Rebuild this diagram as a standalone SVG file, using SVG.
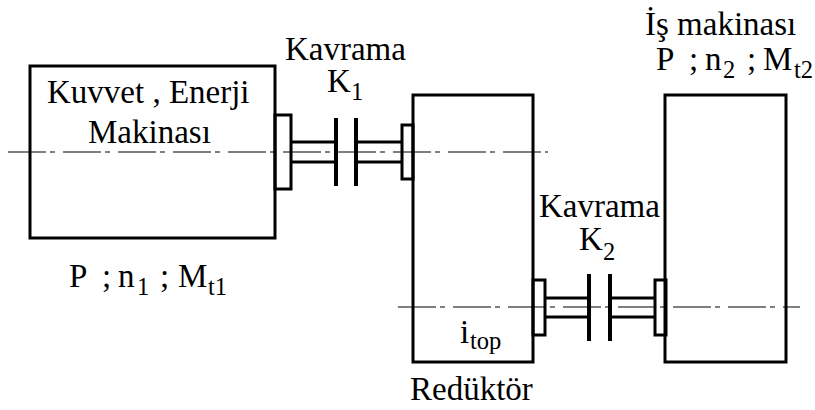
<svg xmlns="http://www.w3.org/2000/svg" width="815" height="410" viewBox="0 0 815 410">
<style>
.b{fill:none;stroke:#000;stroke-width:3}
.s{fill:none;stroke:#000;stroke-width:3}
.d{fill:none;stroke:#000;stroke-width:4}
.c{fill:none;stroke:#000;stroke-width:1.2;stroke-dasharray:38 4 5 8}
text{font-family:"Liberation Serif","Times New Roman",serif;font-size:33px;fill:#000}
.u{font-size:24.5px}
</style>
<rect width="815" height="410" fill="#fff"/>
<g id="connectors"><path class="c" d="M8 152H548"/><path class="c" d="M398 307H800"/></g>
<g id="motor"><rect class="b" x="30" y="66" width="245" height="172"/>
<text x="47" y="103">Kuvvet , Enerji</text><text x="88" y="143">Makinası</text>
<text x="69" y="287">P</text><text x="102" y="287">;</text><text x="118" y="287">n</text><text class="u" x="137" y="295">1</text><text x="160" y="287">;</text><text x="178" y="287">M</text><text class="u" x="208" y="295">t1</text></g>
<g id="reducer"><rect class="b" x="413" y="95" width="120" height="267"/>
<text x="460" y="343">i</text><text class="u" x="470" y="349">top</text>
<text x="410" y="400">Redüktör</text></g>
<g id="machine"><rect class="b" x="665" y="95" width="121" height="267"/>
<text x="645" y="35">İş makinası</text>
<text x="656" y="70">P</text><text x="689" y="70">;</text><text x="705" y="70">n</text><text class="u" x="723" y="78">2</text><text x="747" y="70">;</text><text x="763" y="70">M</text><text class="u" x="794" y="78">t2</text></g>
<g id="coupling1"><rect class="b" x="275" y="115" width="16" height="74"/>
<rect class="b" x="402" y="125" width="11" height="54"/>
<path class="s" d="M291 142H336M291 162H336M356 142H402M356 162H402"/>
<path class="d" d="M336 118V186M356 118V186"/>
<text x="285" y="60">Kavrama</text><text x="327" y="92">K</text><text class="u" x="351" y="100">1</text></g>
<g id="coupling2"><rect class="b" x="533" y="280" width="12" height="55"/>
<rect class="b" x="655" y="280" width="11" height="55"/>
<path class="s" d="M545 298H589M545 317H589M610 298H655M610 317H655"/>
<path class="d" d="M589 274V341M610 274V341"/>
<text x="539" y="217">Kavrama</text><text x="579" y="250">K</text><text class="u" x="603" y="260">2</text></g>
</svg>
